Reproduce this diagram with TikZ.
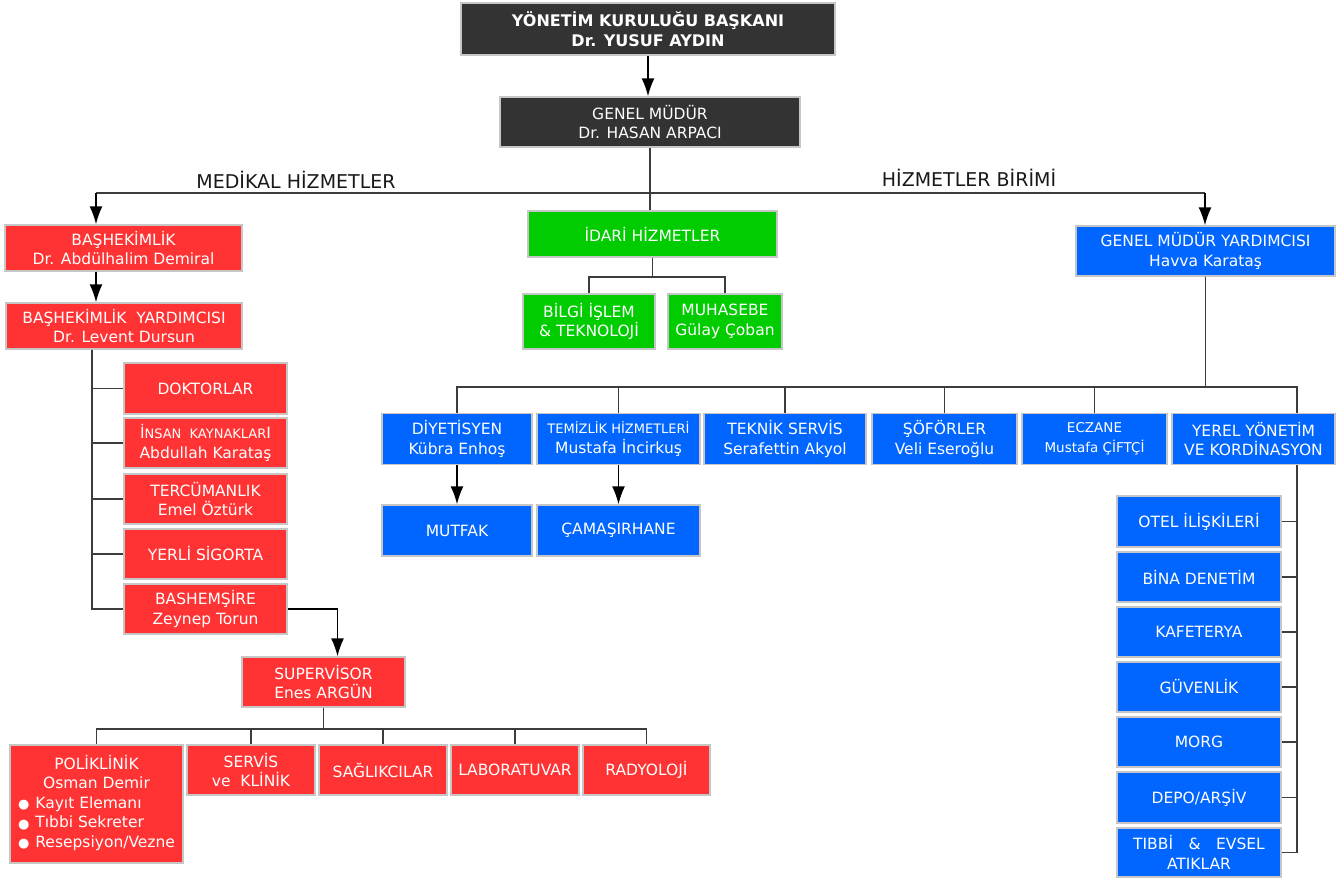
\documentclass[tikz,border=0pt]{standalone}
\usepackage{fontspec}
\setmainfont{DejaVu Sans}
\usetikzlibrary{arrows.meta}
\definecolor{bossgray}{HTML}{333333}
\definecolor{medred}{HTML}{FF3333}
\definecolor{admgreen}{HTML}{00CC00}
\definecolor{srvblue}{HTML}{0066FF}
\definecolor{wire}{HTML}{3C3C3C}
\tikzset{arrow/.style={->, >={Latex[length=18pt,width=13pt]}, draw=black, line width=1.6pt}}
\tikzset{link/.style={draw=wire, line width=1.6pt}}
\tikzset{boxsize/.style 2 args={minimum width=#1, minimum height=#2}}
\tikzset{unit/.style={draw=gray!45, line width=1.4pt, text=white, align=center, inner sep=0pt,
    font=\fontsize{15.5}{19.5}\selectfont}}
\tikzset{darkbox/.style={unit, fill=bossgray}, redbox/.style={unit, fill=medred},
    greenbox/.style={unit, fill=admgreen}, bluebox/.style={unit, fill=srvblue}}
\tikzset{head/.style={font=\fontsize{19}{22}\selectfont, text=black!90, inner sep=0pt}}
\newcommand{\blt}{\raisebox{-0.5pt}{\fontsize{13}{13}\selectfont ●}\hspace{6pt}}
\newcommand{\smallcaps}[1]{{\fontsize{13}{15}\selectfont #1}}

\begin{document}
\begin{tikzpicture}[x=1pt, y=-1pt]
      \useasboundingbox (0,0) rectangle (1343,879);

      \node[darkbox, font=\bfseries\fontsize{16}{20}\selectfont, boxsize={374pt}{52pt}] (ykb) at (648,29) {YÖNETİM KURULUĞU BAŞKANI\\Dr. YUSUF AYDIN};
      \node[darkbox, boxsize={300pt}{50pt}] (gm) at (650,122) {GENEL MÜDÜR\\Dr. HASAN ARPACI};

      \node[head] (med) at (296,180) {MEDİKAL HİZMETLER};
      \node[head] (hiz) at (969,178) {HİZMETLER BİRİMİ};

      \node[redbox, boxsize={237pt}{46pt}] (bh) at (123.5,248) {BAŞHEKİMLİK\\Dr. Abdülhalim Demiral};
      \node[redbox, boxsize={236pt}{46pt}] (bhy) at (124,326) {BAŞHEKİMLİK\ \ YARDIMCISI\\Dr. Levent Dursun};
      \node[redbox, boxsize={163pt}{51pt}] (dok) at (205.5,388.5) {DOKTORLAR};
      \node[redbox, boxsize={163pt}{50pt}] (ik) at (205.5,443) {İ\smallcaps{NSAN\ \ KAYNAKLAR}I\\Abdullah Karataş};
      \node[redbox, boxsize={163pt}{50pt}] (terc) at (205.5,499) {TERCÜMANLIK\\Emel Öztürk};
      \node[redbox, boxsize={163pt}{50pt}] (yerli) at (205.5,554) {YERLİ SİGORTA};
      \node[redbox, boxsize={163pt}{50pt}] (bashem) at (205.5,609) {BASHEMŞİRE\\Zeynep Torun};
      \node[redbox, boxsize={163pt}{50pt}] (sup) at (323.5,682) {SUPERVİSOR\\Enes ARGÜN};

      \node[redbox, boxsize={173pt}{118pt}] (poli) at (96.5,804) {\begin{tabular}{@{}l@{}}
        \multicolumn{1}{@{}c@{}}{POLİKLİNİK}\\
        \multicolumn{1}{@{}c@{}}{Osman Demir}\\
        \blt Kayıt Elemanı\\
        \blt Tıbbi Sekreter\\
        \blt Resepsiyon/Vezne
      \end{tabular}};
      \node[redbox, boxsize={128pt}{50pt}] (servis) at (251,770) {SERVİS\\ve\ \ KLİNİK};
      \node[redbox, boxsize={128pt}{50pt}] (sag) at (383,770) {SAĞLIKCILAR};
      \node[redbox, boxsize={128pt}{50pt}] (lab) at (515,770) {LABORATUVAR};
      \node[redbox, boxsize={127pt}{50pt}] (rad) at (646.5,770) {RADYOLOJİ};

      \node[greenbox, boxsize={249pt}{46pt}] (idari) at (652.5,234) {İDARİ HİZMETLER};
      \node[greenbox, boxsize={132pt}{55pt}] (bilgi) at (589,321.5) {BİLGİ İŞLEM\\\&\ TEKNOLOJİ};
      \node[greenbox, boxsize={114pt}{55pt}] (muh) at (725,321.5) {MUHASEBE\\Gülay Çoban};

      \node[bluebox, boxsize={259pt}{50pt}] (gmy) at (1205.5,251) {GENEL MÜDÜR YARDIMCISI\\Havva Karataş};
      \node[bluebox, boxsize={150pt}{51pt}] (diy) at (457,439) {DİYETİSYEN\\Kübra Enhoş};
      \node[bluebox, boxsize={163pt}{51pt}] (tem) at (618.5,439) {\smallcaps{TEMİZLİK HİZMETLERİ}\\Mustafa İncirkuş};
      \node[bluebox, boxsize={162pt}{51pt}] (tek) at (785,439) {TEKNİK SERVİS\\Serafettin Akyol};
      \node[bluebox, boxsize={145pt}{51pt}] (sof) at (944.5,439) {ŞÖFÖRLER\\Veli Eseroğlu};
      \node[bluebox, boxsize={145pt}{51pt}, font=\fontsize{13.5}{19.5}\selectfont] (ecz) at (1094.5,439) {ECZANE\\Mustafa ÇİFTÇİ};
      \node[bluebox, boxsize={163pt}{51pt}] (yerel) at (1253.5,439) {YEREL YÖNETİM\\VE KORDİNASYON};
      \node[bluebox, boxsize={150pt}{51pt}] (mutfak) at (457,530.5) {MUTFAK};
      \node[bluebox, boxsize={163pt}{51pt}] (camas) at (618.5,530.5) {ÇAMAŞIRHANE};

      \node[bluebox, boxsize={164pt}{51pt}] (otel) at (1199,521.5) {OTEL İLİŞKİLERİ};
      \node[bluebox, boxsize={164pt}{50pt}] (bina) at (1199,577) {BİNA DENETİM};
      \node[bluebox, boxsize={164pt}{50pt}] (kaf) at (1199,632) {KAFETERYA};
      \node[bluebox, boxsize={164pt}{50pt}] (guv) at (1199,687) {GÜVENLİK};
      \node[bluebox, boxsize={164pt}{50pt}] (morg) at (1199,742) {MORG};
      \node[bluebox, boxsize={164pt}{51pt}] (depo) at (1199,797.5) {DEPO/ARŞİV};
      \node[bluebox, boxsize={164pt}{49pt}] (tibbi) at (1199,852.5) {TIBBİ\quad\&\quad EVSEL\\ATIKLAR};

      \coordinate (medj) at (96,193);
      \coordinate (hizj) at (1205,193);
      \coordinate (bhx) at (96,0);
      \coordinate (trunk) at (92,0);
      \coordinate (yx) at (1297,0);

      \draw[arrow] (ykb.south) -- (ykb.south |- gm.north);
      \draw[link] (gm.south) -- (gm.south |- idari.north);
      \draw[link] (medj) -- (hizj);
      \draw[arrow] (medj) -- (medj |- bh.north);
      \draw[arrow] (hizj) -- (hizj |- gmy.north);
      \draw[arrow] (bh.south -| bhx) -- (bhy.north -| bhx);

      \foreach \n in {dok,ik,terc,yerli,bashem}
        \draw[link] (bhy.south -| trunk) |- (\n.west);
      \draw[arrow] (bashem.east) -| ([xshift=14pt]sup.north);
      \foreach \n in {poli,servis,sag,lab,rad}
        \draw[link] (sup.south) -- ++(0,21) -| (\n.north);

      \foreach \n in {bilgi,muh}
        \draw[link] (idari.south) -- ++(0,19) -| (\n.north);

      \foreach \n in {diy,tem,tek,sof,ecz}
        \draw[link] (gmy.south) -- ++(0,110) -| (\n.north);
      \draw[link] (gmy.south) -- ++(0,110) -| (yerel.north -| yx);
      \draw[arrow] (diy) -- (mutfak);
      \draw[arrow] (tem) -- (camas);
      \foreach \n in {otel,bina,kaf,guv,morg,depo,tibbi}
        \draw[link] (yerel.south -| yx) |- (\n.east);
    \end{tikzpicture}
\end{document}
